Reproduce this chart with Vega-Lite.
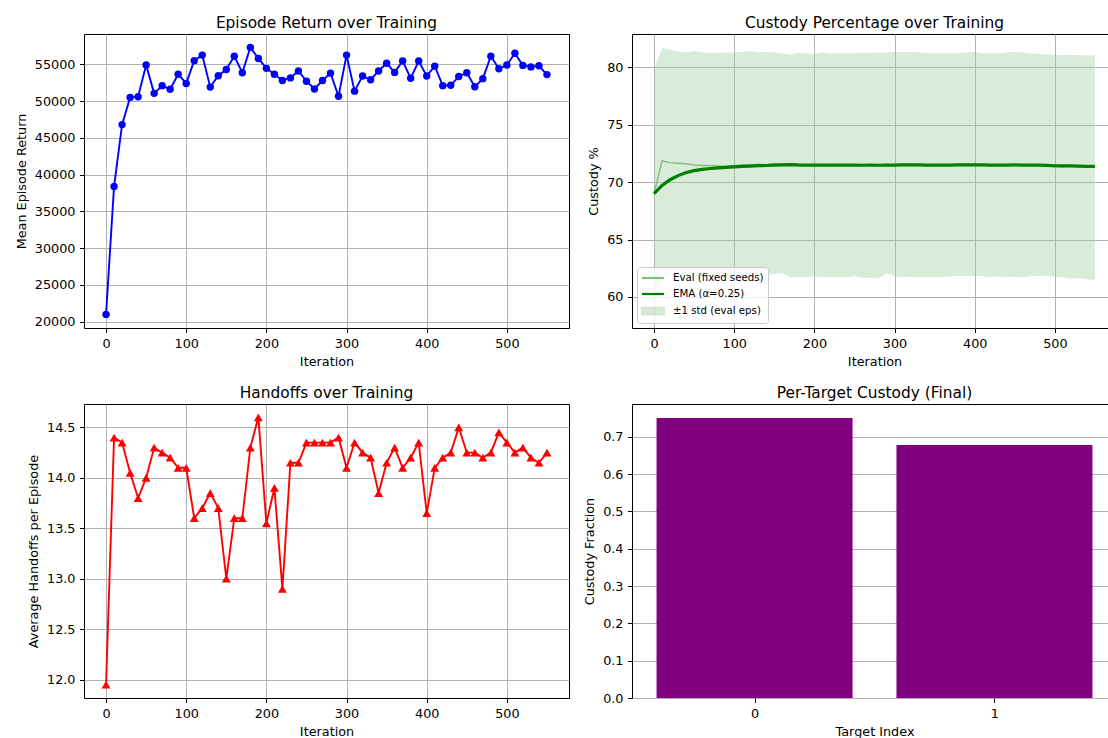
{
  "$schema": "https://vega.github.io/schema/vega-lite/v6.json",
  "padding": {"left": 14, "top": 15, "right": 0, "bottom": 0},
  "background": "white",
  "datasets": {
    "ret": [
      {"iteration": 0, "value": 21000}, {"iteration": 10, "value": 38400}, {"iteration": 20, "value": 46800}, {"iteration": 30, "value": 50500},
      {"iteration": 40, "value": 50600}, {"iteration": 50, "value": 54900}, {"iteration": 60, "value": 51050}, {"iteration": 70, "value": 52100},
      {"iteration": 80, "value": 51600}, {"iteration": 90, "value": 53650}, {"iteration": 100, "value": 52400}, {"iteration": 110, "value": 55500},
      {"iteration": 120, "value": 56250}, {"iteration": 130, "value": 51900}, {"iteration": 140, "value": 53450}, {"iteration": 150, "value": 54300},
      {"iteration": 160, "value": 56100}, {"iteration": 170, "value": 53850}, {"iteration": 180, "value": 57300}, {"iteration": 190, "value": 55800},
      {"iteration": 200, "value": 54450}, {"iteration": 210, "value": 53650}, {"iteration": 220, "value": 52800}, {"iteration": 230, "value": 53150},
      {"iteration": 240, "value": 54100}, {"iteration": 250, "value": 52700}, {"iteration": 260, "value": 51650}, {"iteration": 270, "value": 52800},
      {"iteration": 280, "value": 53800}, {"iteration": 290, "value": 50650}, {"iteration": 300, "value": 56250}, {"iteration": 310, "value": 51350},
      {"iteration": 320, "value": 53400}, {"iteration": 330, "value": 52900}, {"iteration": 340, "value": 54100}, {"iteration": 350, "value": 55150},
      {"iteration": 360, "value": 53900}, {"iteration": 370, "value": 55450}, {"iteration": 380, "value": 53100}, {"iteration": 390, "value": 55450},
      {"iteration": 400, "value": 53400}, {"iteration": 410, "value": 54750}, {"iteration": 420, "value": 52100}, {"iteration": 430, "value": 52150},
      {"iteration": 440, "value": 53350}, {"iteration": 450, "value": 53850}, {"iteration": 460, "value": 51950}, {"iteration": 470, "value": 53050},
      {"iteration": 480, "value": 56100}, {"iteration": 490, "value": 54400}, {"iteration": 500, "value": 54900}, {"iteration": 510, "value": 56500},
      {"iteration": 520, "value": 54850}, {"iteration": 530, "value": 54650}, {"iteration": 540, "value": 54800}, {"iteration": 550, "value": 53600}
    ],
    "hand": [
      {"iteration": 0, "value": 11.95}, {"iteration": 10, "value": 14.4}, {"iteration": 20, "value": 14.35}, {"iteration": 30, "value": 14.05},
      {"iteration": 40, "value": 13.8}, {"iteration": 50, "value": 14.0}, {"iteration": 60, "value": 14.3}, {"iteration": 70, "value": 14.25},
      {"iteration": 80, "value": 14.2}, {"iteration": 90, "value": 14.1}, {"iteration": 100, "value": 14.1}, {"iteration": 110, "value": 13.6},
      {"iteration": 120, "value": 13.7}, {"iteration": 130, "value": 13.85}, {"iteration": 140, "value": 13.7}, {"iteration": 150, "value": 13.0},
      {"iteration": 160, "value": 13.6}, {"iteration": 170, "value": 13.6}, {"iteration": 180, "value": 14.3}, {"iteration": 190, "value": 14.6},
      {"iteration": 200, "value": 13.55}, {"iteration": 210, "value": 13.9}, {"iteration": 220, "value": 12.9}, {"iteration": 230, "value": 14.15},
      {"iteration": 240, "value": 14.15}, {"iteration": 250, "value": 14.35}, {"iteration": 260, "value": 14.35}, {"iteration": 270, "value": 14.35},
      {"iteration": 280, "value": 14.35}, {"iteration": 290, "value": 14.4}, {"iteration": 300, "value": 14.1}, {"iteration": 310, "value": 14.35},
      {"iteration": 320, "value": 14.25}, {"iteration": 330, "value": 14.2}, {"iteration": 340, "value": 13.85}, {"iteration": 350, "value": 14.15},
      {"iteration": 360, "value": 14.3}, {"iteration": 370, "value": 14.1}, {"iteration": 380, "value": 14.2}, {"iteration": 390, "value": 14.35},
      {"iteration": 400, "value": 13.65}, {"iteration": 410, "value": 14.1}, {"iteration": 420, "value": 14.2}, {"iteration": 430, "value": 14.25},
      {"iteration": 440, "value": 14.5}, {"iteration": 450, "value": 14.25}, {"iteration": 460, "value": 14.25}, {"iteration": 470, "value": 14.2},
      {"iteration": 480, "value": 14.25}, {"iteration": 490, "value": 14.45}, {"iteration": 500, "value": 14.35}, {"iteration": 510, "value": 14.25},
      {"iteration": 520, "value": 14.3}, {"iteration": 530, "value": 14.2}, {"iteration": 540, "value": 14.15}, {"iteration": 550, "value": 14.25}
    ],
    "cust": [
      {"iteration": 0, "eval": 69.0, "ema": 69.0, "lo": 58.4, "hi": 79.8},
      {"iteration": 10, "eval": 71.85, "ema": 69.71, "lo": 62.0, "hi": 81.7},
      {"iteration": 20, "eval": 71.7, "ema": 70.21, "lo": 61.85, "hi": 81.55},
      {"iteration": 30, "eval": 71.65, "ema": 70.57, "lo": 61.9, "hi": 81.35},
      {"iteration": 40, "eval": 71.6, "ema": 70.83, "lo": 61.9, "hi": 81.3},
      {"iteration": 50, "eval": 71.5, "ema": 71.0, "lo": 61.85, "hi": 81.4},
      {"iteration": 60, "eval": 71.45, "ema": 71.11, "lo": 61.8, "hi": 81.3},
      {"iteration": 70, "eval": 71.45, "ema": 71.19, "lo": 61.7, "hi": 81.25},
      {"iteration": 80, "eval": 71.4, "ema": 71.25, "lo": 61.75, "hi": 81.25},
      {"iteration": 90, "eval": 71.4, "ema": 71.28, "lo": 61.8, "hi": 81.3},
      {"iteration": 100, "eval": 71.45, "ema": 71.33, "lo": 61.85, "hi": 81.3},
      {"iteration": 110, "eval": 71.5, "ema": 71.37, "lo": 61.8, "hi": 81.35},
      {"iteration": 120, "eval": 71.5, "ema": 71.40, "lo": 61.8, "hi": 81.4},
      {"iteration": 130, "eval": 71.55, "ema": 71.44, "lo": 61.85, "hi": 81.3},
      {"iteration": 140, "eval": 71.5, "ema": 71.45, "lo": 61.9, "hi": 81.35},
      {"iteration": 150, "eval": 71.6, "ema": 71.49, "lo": 62.0, "hi": 81.3},
      {"iteration": 160, "eval": 71.55, "ema": 71.51, "lo": 62.1, "hi": 81.2},
      {"iteration": 170, "eval": 71.6, "ema": 71.53, "lo": 61.7, "hi": 81.1},
      {"iteration": 180, "eval": 71.4, "ema": 71.50, "lo": 61.75, "hi": 81.25},
      {"iteration": 190, "eval": 71.45, "ema": 71.49, "lo": 61.7, "hi": 81.2},
      {"iteration": 200, "eval": 71.5, "ema": 71.49, "lo": 61.8, "hi": 81.15},
      {"iteration": 210, "eval": 71.5, "ema": 71.49, "lo": 61.75, "hi": 81.3},
      {"iteration": 220, "eval": 71.45, "ema": 71.48, "lo": 61.7, "hi": 81.2},
      {"iteration": 230, "eval": 71.5, "ema": 71.49, "lo": 61.75, "hi": 81.25},
      {"iteration": 240, "eval": 71.5, "ema": 71.49, "lo": 61.7, "hi": 81.2},
      {"iteration": 250, "eval": 71.45, "ema": 71.48, "lo": 61.8, "hi": 81.25},
      {"iteration": 260, "eval": 71.45, "ema": 71.47, "lo": 61.7, "hi": 81.25},
      {"iteration": 270, "eval": 71.5, "ema": 71.48, "lo": 61.65, "hi": 81.25},
      {"iteration": 280, "eval": 71.45, "ema": 71.47, "lo": 61.6, "hi": 81.3},
      {"iteration": 290, "eval": 71.55, "ema": 71.49, "lo": 62.1, "hi": 81.3},
      {"iteration": 300, "eval": 71.5, "ema": 71.49, "lo": 61.8, "hi": 81.35},
      {"iteration": 310, "eval": 71.55, "ema": 71.51, "lo": 61.75, "hi": 81.3},
      {"iteration": 320, "eval": 71.5, "ema": 71.51, "lo": 61.75, "hi": 81.35},
      {"iteration": 330, "eval": 71.5, "ema": 71.50, "lo": 61.7, "hi": 81.3},
      {"iteration": 340, "eval": 71.45, "ema": 71.49, "lo": 61.75, "hi": 81.25},
      {"iteration": 350, "eval": 71.45, "ema": 71.48, "lo": 61.7, "hi": 81.2},
      {"iteration": 360, "eval": 71.5, "ema": 71.49, "lo": 61.75, "hi": 81.25},
      {"iteration": 370, "eval": 71.5, "ema": 71.49, "lo": 61.8, "hi": 81.2},
      {"iteration": 380, "eval": 71.55, "ema": 71.50, "lo": 61.85, "hi": 81.25},
      {"iteration": 390, "eval": 71.5, "ema": 71.50, "lo": 61.8, "hi": 81.3},
      {"iteration": 400, "eval": 71.5, "ema": 71.50, "lo": 61.85, "hi": 81.35},
      {"iteration": 410, "eval": 71.5, "ema": 71.50, "lo": 61.8, "hi": 81.2},
      {"iteration": 420, "eval": 71.45, "ema": 71.49, "lo": 61.75, "hi": 81.25},
      {"iteration": 430, "eval": 71.5, "ema": 71.49, "lo": 61.8, "hi": 81.2},
      {"iteration": 440, "eval": 71.5, "ema": 71.49, "lo": 61.75, "hi": 81.3},
      {"iteration": 450, "eval": 71.5, "ema": 71.50, "lo": 61.75, "hi": 81.35},
      {"iteration": 460, "eval": 71.45, "ema": 71.48, "lo": 61.7, "hi": 81.3},
      {"iteration": 470, "eval": 71.5, "ema": 71.49, "lo": 61.8, "hi": 81.2},
      {"iteration": 480, "eval": 71.45, "ema": 71.48, "lo": 61.85, "hi": 81.15},
      {"iteration": 490, "eval": 71.4, "ema": 71.46, "lo": 61.85, "hi": 81.1},
      {"iteration": 500, "eval": 71.35, "ema": 71.43, "lo": 61.75, "hi": 81.1},
      {"iteration": 510, "eval": 71.35, "ema": 71.41, "lo": 61.7, "hi": 81.05},
      {"iteration": 520, "eval": 71.4, "ema": 71.41, "lo": 61.6, "hi": 81.1},
      {"iteration": 530, "eval": 71.35, "ema": 71.39, "lo": 61.65, "hi": 81.05},
      {"iteration": 540, "eval": 71.35, "ema": 71.38, "lo": 61.55, "hi": 81.05},
      {"iteration": 550, "eval": 71.35, "ema": 71.37, "lo": 61.5, "hi": 81.05}
    ],
    "targets": [
      {"target": 0, "custody": 0.75},
      {"target": 1, "custody": 0.678}
    ]
  },
  "columns": 2,
  "bounds": "flush",
  "spacing": {"row": 76, "column": 63},
  "resolve": {"scale": {"color": "independent"}, "legend": {"color": "independent"}},
  "concat": [
    {
      "title": "Episode Return over Training",
      "width": 485,
      "height": 294,
      "data": {"name": "ret"},
      "mark": {"type": "line", "color": "#0000ff", "strokeWidth": 1.9, "point": {"filled": true, "size": 55, "color": "#0000ff", "opacity": 1}},
      "encoding": {
        "x": {"field": "iteration", "type": "quantitative", "scale": {"domain": [-27.5, 577.5], "nice": false, "zero": false}, "axis": {"values": [0, 100, 200, 300, 400, 500], "title": "Iteration", "format": "d"}},
        "y": {"field": "value", "type": "quantitative", "scale": {"domain": [19150, 59120], "nice": false, "zero": false}, "axis": {"values": [20000, 25000, 30000, 35000, 40000, 45000, 50000, 55000], "title": "Mean Episode Return", "format": "d"}}
      }
    },
    {
      "title": "Custody Percentage over Training",
      "width": 485,
      "height": 294,
      "data": {"name": "cust"},
      "layer": [
        {
          "mark": {"type": "area", "fillOpacity": 0.4, "opacity": 1},
          "encoding": {
            "x": {"field": "iteration", "type": "quantitative", "scale": {"domain": [-27.5, 577.5], "nice": false, "zero": false}, "axis": {"values": [0, 100, 200, 300, 400, 500], "title": "Iteration", "format": "d"}},
            "y": {"field": "hi", "type": "quantitative", "scale": {"domain": [57.3, 82.9], "nice": false, "zero": false}, "axis": {"values": [60, 65, 70, 75, 80], "title": "Custody %", "format": "d"}},
            "y2": {"field": "lo"},
            "color": {
              "datum": "±1 std (eval eps)",
              "scale": {"domain": ["Eval (fixed seeds)", "EMA (α=0.25)", "±1 std (eval eps)"], "range": ["#7fbf7f", "#008000", "#a0d0a0"]},
              "legend": {
                "title": null,
                "orient": "bottom-left",
                "offset": 5,
                "padding": 4,
                "fillColor": "rgba(255,255,255,0.8)",
                "strokeColor": "#cccccc",
                "cornerRadius": 3,
                "labelFontSize": 10.2,
                "labelColor": "#000",
                "symbolType": {"expr": "indexof(datum.value, 'std') >= 0 ? 'M-2,-0.64H2V0.64H-2Z' : 'M-2,0H2'"},
                "symbolStrokeWidth": 2.2,
                "symbolOpacity": {"expr": "indexof(datum.value, 'std') >= 0 ? 0.45 : 1"},
                "symbolSize": 121,
                "symbolOffset": 5,
                "labelOffset": 13,
                "rowPadding": 3
              }
            }
          }
        },
        {
          "mark": {"type": "line", "strokeWidth": 1.5},
          "encoding": {
            "x": {"field": "iteration", "type": "quantitative"},
            "y": {"field": "eval", "type": "quantitative"},
            "color": {"datum": "Eval (fixed seeds)"}
          }
        },
        {
          "mark": {"type": "line", "strokeWidth": 3.2},
          "encoding": {
            "x": {"field": "iteration", "type": "quantitative"},
            "y": {"field": "ema", "type": "quantitative"},
            "color": {"datum": "EMA (α=0.25)"}
          }
        }
      ]
    },
    {
      "title": "Handoffs over Training",
      "width": 485,
      "height": 294,
      "data": {"name": "hand"},
      "mark": {"type": "line", "color": "#ff0000", "strokeWidth": 1.9, "point": {"filled": true, "shape": "triangle-up", "size": 80, "color": "#ff0000", "opacity": 1}},
      "encoding": {
        "x": {"field": "iteration", "type": "quantitative", "scale": {"domain": [-27.5, 577.5], "nice": false, "zero": false}, "axis": {"values": [0, 100, 200, 300, 400, 500], "title": "Iteration", "format": "d"}},
        "y": {"field": "value", "type": "quantitative", "scale": {"domain": [11.8175, 14.7325], "nice": false, "zero": false}, "axis": {"values": [12.0, 12.5, 13.0, 13.5, 14.0, 14.5], "title": "Average Handoffs per Episode", "format": ".1f"}}
      }
    },
    {
      "title": "Per-Target Custody (Final)",
      "width": 485,
      "height": 294,
      "data": {"name": "targets"},
      "mark": {"type": "bar", "color": "#800080", "width": 196, "orient": "vertical"},
      "encoding": {
        "x": {"field": "target", "type": "quantitative", "scale": {"domain": [-0.49, 1.49], "nice": false, "zero": false}, "axis": {"values": [0, 1], "grid": false, "title": "Target Index", "format": "d"}},
        "y": {"field": "custody", "type": "quantitative", "scale": {"domain": [0, 0.7875], "nice": false}, "axis": {"values": [0, 0.1, 0.2, 0.3, 0.4, 0.5, 0.6, 0.7], "title": "Custody Fraction", "format": ".1f"}}
      }
    }
  ],
  "config": {
    "font": "DejaVu Sans",
    "view": {"stroke": "#000", "strokeWidth": 1},
    "axis": {
      "domain": false,
      "grid": true,
      "gridColor": "#b0b0b0",
      "gridWidth": 1,
      "tickColor": "#000",
      "tickSize": 4.5,
      "tickWidth": 1,
      "labelPadding": 4.5,
      "labelFontSize": 12.8,
      "labelColor": "#000",
      "titleFontSize": 12.8,
      "titleFontWeight": "normal",
      "titleColor": "#000",
      "titlePadding": 6
    },
    "title": {"fontSize": 15.4, "fontWeight": "normal", "color": "#000", "offset": 3, "anchor": "middle"}
  }
}
